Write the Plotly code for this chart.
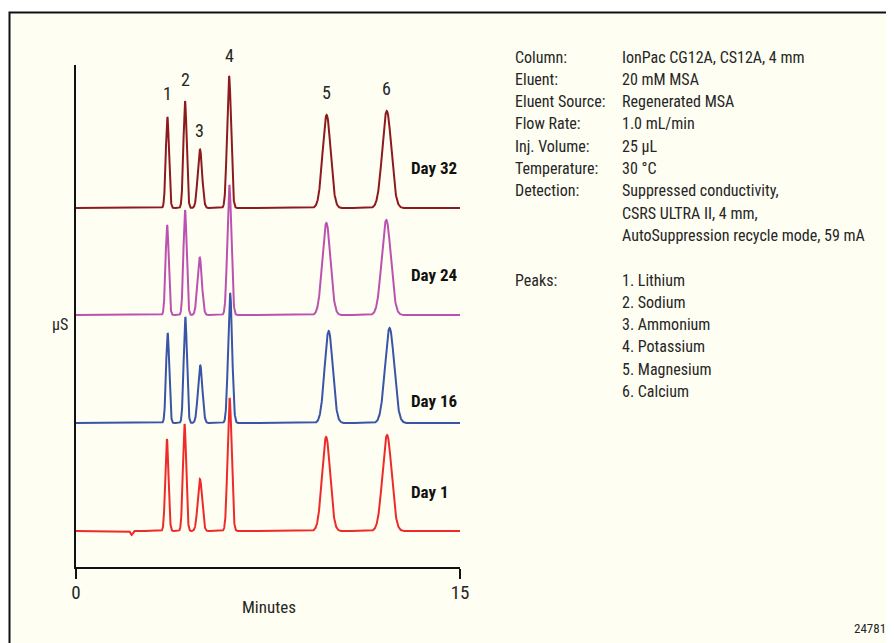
import numpy as np
import plotly.graph_objects as go

# ---------------- data ----------------
days = ["Day 1", "Day 16", "Day 24", "Day 32"]
colors = ["#ee2a2a", "#3a54a8", "#bb52b0", "#8c1a1e"]
baselines = [36, 144, 252, 359]          # trace offsets (arbitrary µS units)
peak_labels = ["1", "2", "3", "4", "5", "6"]
retention = {
    "Day 1":  [3.55, 4.24, 4.84, 6.00, 9.77, 12.15],
    "Day 16": [3.58, 4.27, 4.85, 6.02, 9.87, 12.25],
    "Day 24": [3.56, 4.26, 4.83, 5.99, 9.78, 12.12],
    "Day 32": [3.57, 4.26, 4.84, 5.98, 9.79, 12.14],
}
heights = {
    "Day 1":  [92, 107, 52, 133, 94, 96],
    "Day 16": [90, 106, 58, 130, 92, 95],
    "Day 24": [90, 105, 58, 130, 92, 95],
    "Day 32": [91, 107, 59, 132, 93, 97],
}
widths = [0.062, 0.064, 0.085, 0.078, 0.158, 0.178]   # peak sigma, minutes
dip_day1 = (2.17, -4.0, 0.04)                         # small injection dip

label_offsets = [39, 22, 40, 40]   # day label height above baseline

conditions = [
    ("Column:", "IonPac CG12A, CS12A, 4 mm"),
    ("Eluent:", "20 mM MSA"),
    ("Eluent Source:", "Regenerated MSA"),
    ("Flow Rate:", "1.0 mL/min"),
    ("Inj. Volume:", "25 µL"),
    ("Temperature:", "30 °C"),
    ("Detection:", "Suppressed conductivity,"),
    ("", "CSRS ULTRA II, 4 mm,"),
    ("", "AutoSuppression recycle mode, 59 mA"),
    ("", ""),
    ("Peaks:", "1. Lithium"),
    ("", "2. Sodium"),
    ("", "3. Ammonium"),
    ("", "4. Potassium"),
    ("", "5. Magnesium"),
    ("", "6. Calcium"),
]

# ---------------- figure ----------------
PAGE = 8                      # browser default body margin
W, H = 894 - PAGE, 643 - PAGE
X0, X1, Y0, Y1 = 76, 460, 567, 65   # plot area in page pixels
L, T = X0 - PAGE, Y1 - PAGE
R = W - (X1 - PAGE)
B = H - (Y0 - PAGE)
XMAX, YMAX = 15, 502
FONT = "Liberation Sans Narrow, Arial Narrow, Roboto Condensed, Liberation Sans, sans-serif"
TXT = "#262626"

def pxx(x):
    return (x - X0) / (X1 - X0)

def pxy(y):
    return (Y0 - y) / (Y0 - Y1)

t = np.linspace(0, XMAX, 3001)
fig = go.Figure()
for day, col, base in zip(days, colors, baselines):
    y = np.full_like(t, float(base))
    for rt, h, s in zip(retention[day], heights[day], widths):
        y += h * np.exp(-0.5 * ((t - rt) / s) ** 2)
    if day == "Day 1":
        c, d, s = dip_day1
        y += d * np.exp(-0.5 * ((t - c) / s) ** 2)
    fig.add_trace(go.Scatter(x=t, y=y, mode="lines", line=dict(color=col, width=2),
                             hoverinfo="skip", showlegend=False))

ann = []
# peak numbers above top trace
top = days[-1]
lab_py = [94, 80, 130, 55, 93, 89]
for lab, rt, ly in zip(peak_labels, retention[top], lab_py):
    ann.append(dict(x=rt, y=pxy(ly), xref="x", yref="paper", text=lab, showarrow=False,
                    yanchor="middle", font=dict(family=FONT, size=18, color=TXT)))
# day labels
for day, base, off in zip(days, baselines, label_offsets):
    ann.append(dict(x=13.0, y=base + off, xref="x", yref="y", text="<b>" + day + "</b>",
                    showarrow=False, xanchor="left", yanchor="middle",
                    font=dict(family=FONT, size=17, color="#111")))
# axis labels
ann.append(dict(x=pxx(70), y=pxy(324), xref="paper", yref="paper", text="µS", showarrow=False,
                xanchor="right", yanchor="middle", font=dict(family=FONT, size=16, color=TXT)))
ann.append(dict(x=pxx(269), y=pxy(607), xref="paper", yref="paper", text="Minutes", showarrow=False,
                xanchor="center", yanchor="middle", font=dict(family=FONT, size=17, color=TXT)))
# conditions text
for i, (k, v) in enumerate(conditions):
    yy = pxy(57 + i * 22.3)
    if k:
        ann.append(dict(x=pxx(513), y=yy, xref="paper", yref="paper", text=k, showarrow=False,
                        xanchor="left", yanchor="middle", font=dict(family=FONT, size=16, color=TXT)))
    if v:
        ann.append(dict(x=pxx(620), y=yy, xref="paper", yref="paper", text=v, showarrow=False,
                        xanchor="left", yanchor="middle", font=dict(family=FONT, size=16, color=TXT)))
ann.append(dict(x=pxx(888), y=pxy(628), xref="paper", yref="paper", text="24781", showarrow=False,
                xanchor="right", yanchor="middle", font=dict(family=FONT, size=13, color=TXT)))

shapes = [dict(type="rect", xref="paper", yref="paper", x0=pxx(9.5), y0=pxy(660),
               x1=pxx(910), y1=pxy(12.5), line=dict(color="#111", width=2),
               fillcolor="#fefef2", layer="below")]

fig.update_layout(
    width=W, height=H, margin=dict(l=L, r=R, t=T, b=B, pad=0),
    paper_bgcolor="white", plot_bgcolor="rgba(0,0,0,0)",
    annotations=ann, shapes=shapes, showlegend=False,
    xaxis=dict(range=[0, XMAX], tickvals=[0, 15], ticktext=["0", "15"], ticks="outside",
               ticklen=10, tickwidth=1.5, tickcolor="#111", showline=True, linecolor="#111",
               linewidth=1.5, showgrid=False, zeroline=False, ticklabelstandoff=-3,
               tickfont=dict(family=FONT, size=19, color=TXT)),
    yaxis=dict(range=[0, YMAX], showticklabels=False, ticks="", showline=True, linecolor="#111",
               linewidth=1.5, showgrid=False, zeroline=False),
)
fig.write_html("out.html")
